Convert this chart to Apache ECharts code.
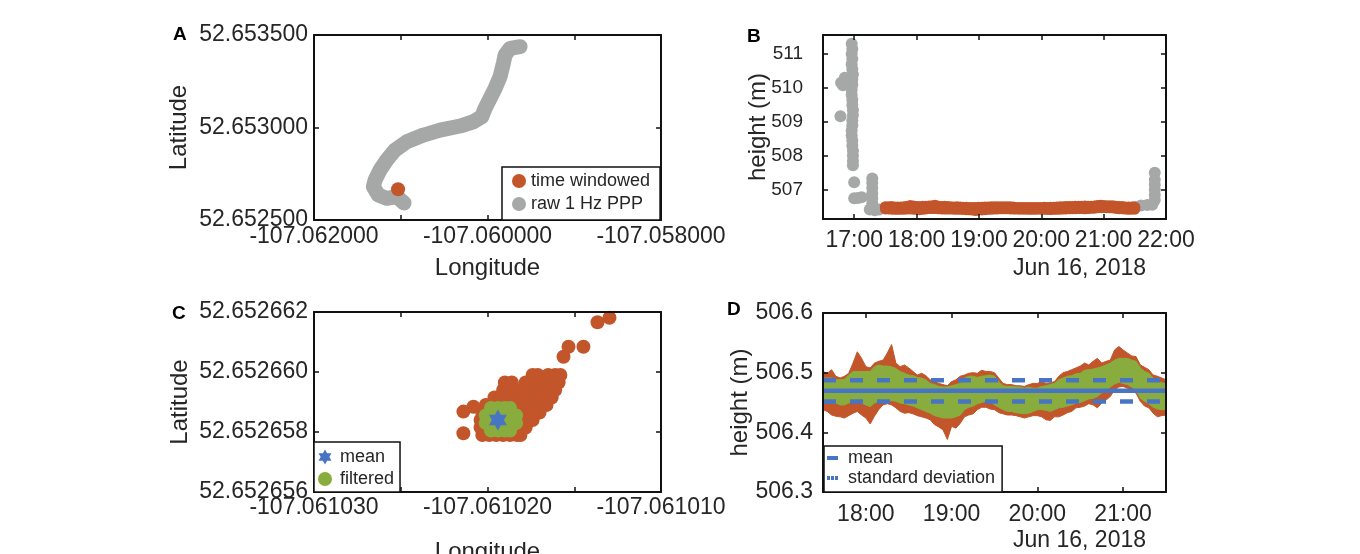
<!DOCTYPE html>
<html lang="en">
<head>
<meta charset="utf-8">
<title>PPP position and height, Jun 16, 2018</title>
<script src="https://cdn.jsdelivr.net/npm/echarts@6/dist/echarts.min.js"></script>
<style>
  html, body { margin: 0; padding: 0; background: #ffffff; }
  #chart { width: 1360px; height: 554px; }
</style>
</head>
<body>
<div id="chart"></div>
<script>
// ---- values ----

// A: raw 1 Hz PPP track [lon, lat] and the time windowed fix
var trackRaw = [
  [-107.059624, 52.653437], [-107.059739, 52.653428], [-107.059797, 52.653392],
  [-107.059817, 52.653347], [-107.059855, 52.653275], [-107.059912, 52.653212],
  [-107.059970, 52.653158], [-107.060028, 52.653104], [-107.060066, 52.653058],
  [-107.060163, 52.653031], [-107.060316, 52.653008], [-107.060547, 52.652986],
  [-107.060739, 52.652959], [-107.060931, 52.652923], [-107.061066, 52.652878],
  [-107.061161, 52.652824], [-107.061239, 52.652770], [-107.061296, 52.652716],
  [-107.061316, 52.652680], [-107.061258, 52.652635], [-107.061161, 52.652617],
  [-107.061046, 52.652626], [-107.060962, 52.652592]
];
var trackWindowed = [[-107.061031, 52.652666]];

// B: raw heights outside the window [hour of day, height m]
var heightRawB = [
  [16.79, 510.15], [16.85, 510.30], [16.82, 510.08], [16.78, 509.17],
  [16.96, 511.30], [16.97, 511.15], [16.96, 511.00], [16.97, 510.85], [16.96, 510.70],
  [16.97, 510.55], [16.98, 510.40], [16.97, 510.25], [16.97, 510.10], [16.96, 509.95],
  [16.96, 509.80], [16.97, 509.65], [16.97, 509.50], [16.98, 509.35], [16.98, 509.20],
  [16.97, 509.05], [16.97, 508.90], [16.96, 508.75], [16.96, 508.60], [16.97, 508.45],
  [16.97, 508.30], [16.98, 508.15], [16.98, 508.00], [16.98, 507.85], [16.98, 507.72],
  [17.00, 507.22],
  [17.00, 506.75], [17.06, 506.76], [17.12, 506.78],
  [17.29, 507.33], [17.29, 507.20], [17.29, 507.05], [17.29, 506.90], [17.29, 506.75], [17.29, 506.60],
  [17.25, 506.42], [17.33, 506.40], [17.40, 506.42],
  [21.50, 506.50], [21.60, 506.54], [21.70, 506.55], [21.78, 506.56],
  [21.82, 506.70], [21.82, 506.85], [21.82, 507.00], [21.82, 507.15], [21.82, 507.30], [21.82, 507.50]
];

// C: time windowed and filtered positions [lon, lat], and their mean
var posWindowed = [
  [-107.0610203, 52.6526579], [-107.0610199, 52.6526579], [-107.0610195, 52.6526579], [-107.0610191, 52.6526579],
  [-107.0610187, 52.6526579], [-107.0610183, 52.6526579], [-107.0610181, 52.6526579],
  [-107.0610204, 52.65265815], [-107.0610200, 52.65265815], [-107.0610196, 52.65265815], [-107.0610192, 52.65265815],
  [-107.0610188, 52.65265815], [-107.0610184, 52.65265815], [-107.0610180, 52.65265815], [-107.0610178, 52.65265815],
  [-107.0610204, 52.6526584], [-107.0610200, 52.6526584], [-107.0610196, 52.6526584], [-107.0610192, 52.6526584],
  [-107.0610188, 52.6526584], [-107.0610184, 52.6526584], [-107.0610180, 52.6526584], [-107.0610176, 52.6526584],
  [-107.0610174, 52.6526584],
  [-107.0610203, 52.65265865], [-107.0610199, 52.65265865], [-107.0610195, 52.65265865], [-107.0610191, 52.65265865],
  [-107.0610187, 52.65265865], [-107.0610183, 52.65265865], [-107.0610179, 52.65265865], [-107.0610175, 52.65265865],
  [-107.0610171, 52.65265865], [-107.0610170, 52.65265865],
  [-107.0610201, 52.6526589], [-107.0610197, 52.6526589], [-107.0610193, 52.6526589], [-107.0610189, 52.6526589],
  [-107.0610185, 52.6526589], [-107.0610181, 52.6526589], [-107.0610177, 52.6526589], [-107.0610173, 52.6526589],
  [-107.0610169, 52.6526589], [-107.0610166, 52.6526589],
  [-107.0610196, 52.65265915], [-107.0610192, 52.65265915], [-107.0610188, 52.65265915], [-107.0610184, 52.65265915],
  [-107.0610180, 52.65265915], [-107.0610176, 52.65265915], [-107.0610172, 52.65265915], [-107.0610168, 52.65265915],
  [-107.0610164, 52.65265915], [-107.0610163, 52.65265915],
  [-107.0610191, 52.6526594], [-107.0610187, 52.6526594], [-107.0610183, 52.6526594], [-107.0610179, 52.6526594],
  [-107.0610175, 52.6526594], [-107.0610171, 52.6526594], [-107.0610167, 52.6526594], [-107.0610163, 52.6526594],
  [-107.0610161, 52.6526594],
  [-107.0610190, 52.65265965], [-107.0610186, 52.65265965], [-107.0610178, 52.65265965], [-107.0610174, 52.65265965],
  [-107.0610170, 52.65265965], [-107.0610166, 52.65265965], [-107.0610162, 52.65265965], [-107.0610159, 52.65265965],
  [-107.0610174, 52.6526599], [-107.0610171, 52.6526599], [-107.0610165, 52.6526599], [-107.0610161, 52.6526599],
  [-107.0610158, 52.6526599],
  [-107.06102139, 52.65265868], [-107.06102081, 52.65265884], [-107.06102139, 52.65265796],
  [-107.06101297, 52.65266181], [-107.06101366, 52.65266166], [-107.06101447, 52.65266084],
  [-107.06101533, 52.65266084], [-107.06101562, 52.65266051]
];
var posFiltered = [
  [-107.0610198, 52.65265805], [-107.0610194, 52.65265805], [-107.0610190, 52.65265805], [-107.0610187, 52.65265805],
  [-107.0610201, 52.6526583], [-107.0610197, 52.6526583], [-107.0610193, 52.6526583],
  [-107.0610189, 52.6526583], [-107.0610185, 52.6526583], [-107.06101835, 52.6526583],
  [-107.0610201, 52.65265855], [-107.0610197, 52.65265855], [-107.0610193, 52.65265855],
  [-107.0610189, 52.65265855], [-107.0610185, 52.65265855], [-107.06101835, 52.65265855],
  [-107.0610198, 52.6526588], [-107.0610194, 52.6526588], [-107.0610190, 52.6526588], [-107.0610187, 52.6526588]
];
var posMean = [[-107.0610194, 52.6526584]];

// D: height envelopes every 3 minutes from 17:30 (windowed raw and filtered)
var heightStartHour = 17.5;
var heightStepHour = 0.05;
var rawHigh = [
  506.502, 506.499, 506.505, 506.494, 506.491, 506.494, 506.499, 506.516, 506.535, 506.524,
  506.510, 506.508, 506.516, 506.519, 506.521, 506.533, 506.547, 506.516, 506.510, 506.513,
  506.508, 506.502, 506.496, 506.499, 506.495, 506.488, 506.485, 506.482, 506.480, 506.478,
  506.485, 506.488, 506.494, 506.496, 506.499, 506.500, 506.499, 506.504, 506.502, 506.502,
  506.500, 506.491, 506.482, 506.480, 506.480, 506.478, 506.478, 506.477, 506.480, 506.482,
  506.482, 506.485, 506.482, 506.483, 506.485, 506.494, 506.500, 506.502, 506.505, 506.508,
  506.511, 506.516, 506.513, 506.519, 506.524, 506.516, 506.519, 506.521, 506.538, 506.544,
  506.538, 506.533, 506.528, 506.527, 506.513, 506.509, 506.505, 506.496, 506.494, 506.491, 506.488
];
var rawLow = [
  506.438, 506.435, 506.429, 506.427, 506.426, 506.424, 506.428, 506.432, 506.435, 506.429,
  506.424, 506.414, 506.427, 506.438, 506.446, 506.448, 506.446, 506.441, 506.435, 506.432,
  506.433, 506.431, 506.428, 506.426, 506.424, 506.421, 506.413, 506.409, 506.404, 506.388,
  506.410, 506.407, 506.415, 506.426, 506.429, 506.431, 506.438, 506.442, 506.442, 506.439,
  506.438, 506.433, 506.431, 506.429, 506.429, 506.428, 506.426, 506.424, 506.426, 506.428,
  506.428, 506.426, 506.421, 506.420, 506.426, 506.426, 506.429, 506.433, 506.435, 506.441,
  506.442, 506.444, 506.448, 506.446, 506.441, 506.449, 506.454, 506.460, 506.471, 506.476,
  506.477, 506.474, 506.468, 506.466, 506.452, 506.444, 506.441, 506.432, 506.426, 506.428, 506.429
];
var filteredHigh = [
  506.491, 506.491, 506.491, 506.488, 506.488, 506.489, 506.496, 506.502, 506.502, 506.502,
  506.502, 506.502, 506.510, 506.513, 506.511, 506.511, 506.510, 506.507, 506.502, 506.499,
  506.496, 506.495, 506.492, 506.491, 506.488, 506.482, 506.480, 506.477, 506.476, 506.476,
  506.478, 506.480, 506.482, 506.491, 506.494, 506.494, 506.492, 506.494, 506.495, 506.496,
  506.494, 506.485, 506.478, 506.477, 506.477, 506.476, 506.476, 506.474, 506.476, 506.474,
  506.474, 506.477, 506.478, 506.480, 506.482, 506.488, 506.491, 506.494, 506.495, 506.498,
  506.499, 506.504, 506.505, 506.506, 506.508, 506.510, 506.513, 506.516, 506.521, 506.524,
  506.524, 506.524, 506.521, 506.519, 506.508, 506.502, 506.499, 506.491, 506.485, 506.483, 506.482
];
var filteredLow = [
  506.452, 506.452, 506.449, 506.449, 506.446, 506.446, 506.449, 506.452, 506.452, 506.449,
  506.446, 506.443, 506.449, 506.452, 506.454, 506.454, 506.453, 506.452, 506.449, 506.448,
  506.446, 506.444, 506.441, 506.438, 506.435, 506.432, 506.428, 506.426, 506.424, 506.424,
  506.424, 506.426, 506.429, 506.438, 506.442, 506.444, 506.448, 506.450, 506.452, 506.452,
  506.446, 506.442, 506.438, 506.435, 506.435, 506.433, 506.432, 506.431, 506.432, 506.435,
  506.438, 506.438, 506.437, 506.435, 506.438, 506.441, 506.442, 506.444, 506.446, 506.449,
  506.450, 506.453, 506.456, 506.457, 506.460, 506.466, 506.471, 506.476, 506.481, 506.484,
  506.482, 506.480, 506.476, 506.471, 506.457, 506.452, 506.448, 506.442, 506.439, 506.438, 506.438
];
var heightMean = 506.4695;
var heightStd = 0.0178;

// ---- styling ----
var ink = '#262626';
var frame = '#111111';
var family = '"Liberation Sans", Arial, Helvetica, sans-serif';
var orange = '#C3552A';
var gray = '#A6A8A8';
var green = '#88AD3E';
var blue = '#4774C3';
var starPath = 'path://M100,0L128.9,50L186.6,50L157.7,100L186.6,150L128.9,150L100,200L71.1,150L13.4,150L42.3,100L13.4,50L71.1,50Z';

function onStep(v, step) {
  var k = v / step;
  return Math.abs(k - Math.round(k)) < 1e-6;
}
function fixed6(step) {
  return function (v) { return onStep(v, step) ? v.toFixed(6) : ''; };
}
function hourLabel(v) { return onStep(v, 1) ? Math.round(v) + ':00' : ''; }

// main axis (labels) + mirrored axis (ticks only), MATLAB box style
function axisPair(grid, pos, lim, fmt, margin, name, gap, labelSize) {
  function base() {
    var a = {
      type: 'value', gridIndex: grid, min: lim.min, max: lim.max, z: 10,
      splitLine: { show: false },
      axisLine: { show: true, onZero: false, lineStyle: { color: frame, width: 2 } },
      axisTick: { show: true, inside: true, length: 5, lineStyle: { color: frame, width: 1.5 } }
    };
    if (lim.interval) a.interval = lim.interval;
    else { a.minInterval = lim.step; a.maxInterval = lim.step; }
    return a;
  }
  var main = base();
  main.position = pos;
  main.axisLabel = { formatter: fmt, margin: margin, color: ink, fontFamily: family, fontSize: labelSize || 23 };
  main.name = name;
  main.nameLocation = 'middle';
  main.nameGap = gap;
  main.nameMoveOverlap = false;
  main.nameTextStyle = { color: ink, fontFamily: family, fontSize: 24 };
  var mirror = base();
  mirror.position = (pos === 'bottom') ? 'top' : 'right';
  mirror.axisLabel = { show: false };
  return [main, mirror];
}

var xAxes = [].concat(
  axisPair(0, 'bottom', { min: -107.062, max: -107.058, interval: 0.001 }, fixed6(0.002), 5, 'Longitude', 36),
  axisPair(1, 'bottom', { min: 16.5, max: 22, step: 1 }, hourLabel, 10, '', 0),
  axisPair(2, 'bottom', { min: -107.06103, max: -107.06101, interval: 0.000005 }, fixed6(0.00001), 4, 'Longitude', 48),
  axisPair(3, 'bottom', { min: 17.5, max: 21.5, step: 1 }, hourLabel, 11, '', 0)
);
var yAxes = [].concat(
  axisPair(0, 'left', { min: 52.6525, max: 52.6535, interval: 0.0005 }, fixed6(0.0005), 6, 'Latitude', 123),
  axisPair(1, 'left', { min: 506.14, max: 511.56, step: 1 }, function (v) { return onStep(v, 1) ? String(Math.round(v)) : ''; }, 20, 'height (m)', 53, 19),
  axisPair(2, 'left', { min: 52.652656, max: 52.652662, interval: 0.000002 }, fixed6(0.000002), 6, 'Latitude', 122),
  axisPair(3, 'left', { min: 506.3, max: 506.6, interval: 0.1 }, function (v) { return v.toFixed(1); }, 10, 'height (m)', 71)
);

function hourOf(i) { return heightStartHour + i * heightStepHour; }
function pairs(values) { return values.map(function (v, i) { return [hourOf(i), v]; }); }
var hStart = hourOf(0);
var hEnd = hourOf(rawHigh.length - 1);

// filled band between two envelopes, placed through the axes with api.coord
function band(high, low, color) {
  return function (params, api) {
    var pts = [];
    for (var i = 0; i < high.length; i++) pts.push(api.coord([hourOf(i), high[i]]));
    for (var j = low.length - 1; j >= 0; j--) pts.push(api.coord([hourOf(j), low[j]]));
    return { type: 'polygon', shape: { points: pts }, style: { fill: color, stroke: color, lineWidth: 1 } };
  };
}

function legendBase(extra) {
  var l = {
    orient: 'vertical', selectedMode: false,
    backgroundColor: '#ffffff', borderColor: frame, borderWidth: 1.5, borderRadius: 0,
    itemStyle: { borderWidth: 0 },
    textStyle: { color: ink, fontFamily: family, fontSize: 18 }
  };
  for (var k in extra) l[k] = extra[k];
  return l;
}

var option = {
  animation: false,
  backgroundColor: '#ffffff',
  textStyle: { fontFamily: family },
  grid: [
    { left: 314, top: 35, width: 347, height: 185, outerBoundsMode: 'none' },
    { left: 823, top: 35, width: 343, height: 184, outerBoundsMode: 'none' },
    { left: 314, top: 312, width: 347, height: 180, outerBoundsMode: 'none' },
    { left: 823, top: 313, width: 343, height: 179, outerBoundsMode: 'none' }
  ],
  xAxis: xAxes,
  yAxis: yAxes,
  legend: [
    legendBase({
      left: 502, top: 167, z: 20, padding: [5, 10, 7, 10], itemGap: 5, itemWidth: 14, itemHeight: 14,
      data: [{ name: 'time windowed', icon: 'circle' }, { name: 'raw 1 Hz PPP', icon: 'circle' }]
    }),
    legendBase({
      left: 314, top: 442, z: 20, padding: [6, 6, 4, 4], itemGap: 4, itemWidth: 14, itemHeight: 15,
      textStyle: { color: ink, fontFamily: family, fontSize: 18, padding: [0, 0, 0, 3] },
      data: [{ name: 'mean', icon: starPath }, { name: 'filtered', icon: 'circle' }]
    }),
    legendBase({
      left: 824, top: 446, z: 20, padding: [3, 7, 5, 3], itemGap: 2, itemWidth: 11, itemHeight: 4,
      symbolKeepAspect: false,
      textStyle: { color: ink, fontFamily: family, fontSize: 18, padding: [0, 0, 0, 5] },
      formatter: function (n) { return n.replace(' (D)', ''); },
      data: [
        { name: 'mean (D)', icon: 'rect' },
        { name: 'standard deviation', icon: 'path://M0,0H3V4H0Z M4,0H7V4H4Z M8,0H11V4H8Z' }
      ]
    })
  ],
  graphic: [
    { type: 'text', x: 173, y: 35, style: { text: 'A', fontSize: 19, fontWeight: 'bold', fontFamily: family, fill: '#000', align: 'left', verticalAlign: 'middle' } },
    { type: 'text', x: 747, y: 37, style: { text: 'B', fontSize: 19, fontWeight: 'bold', fontFamily: family, fill: '#000', align: 'left', verticalAlign: 'middle' } },
    { type: 'text', x: 172, y: 314, style: { text: 'C', fontSize: 19, fontWeight: 'bold', fontFamily: family, fill: '#000', align: 'left', verticalAlign: 'middle' } },
    { type: 'text', x: 727, y: 310, style: { text: 'D', fontSize: 19, fontWeight: 'bold', fontFamily: family, fill: '#000', align: 'left', verticalAlign: 'middle' } },
    { type: 'text', x: 1146, y: 269, style: { text: 'Jun 16, 2018', fontSize: 23, fontFamily: family, fill: ink, align: 'right', verticalAlign: 'middle' } },
    { type: 'text', x: 1146, y: 541, style: { text: 'Jun 16, 2018', fontSize: 23, fontFamily: family, fill: ink, align: 'right', verticalAlign: 'middle' } }
  ],
  series: [
    // A
    { name: 'raw 1 Hz PPP', type: 'line', xAxisIndex: 0, yAxisIndex: 0, data: trackRaw,
      symbol: 'none', showSymbol: false, color: gray,
      lineStyle: { color: gray, width: 15, cap: 'round', join: 'round' }, z: 2 },
    { name: 'time windowed', type: 'scatter', xAxisIndex: 0, yAxisIndex: 0, data: trackWindowed,
      symbolSize: 14, itemStyle: { color: orange, opacity: 1 }, z: 3 },
    // B
    { name: 'raw (B)', type: 'scatter', xAxisIndex: 2, yAxisIndex: 2, data: heightRawB,
      symbolSize: 12, itemStyle: { color: gray, opacity: 1 }, z: 2 },
    { name: 'windowed (B)', type: 'scatter', xAxisIndex: 2, yAxisIndex: 2,
      data: pairs(rawHigh).concat(pairs(rawLow)),
      symbolSize: 11, itemStyle: { color: orange, opacity: 1 }, z: 3 },
    // C
    { name: 'time windowed (C)', type: 'scatter', xAxisIndex: 4, yAxisIndex: 4, data: posWindowed,
      symbolSize: 14, itemStyle: { color: orange, opacity: 1 }, z: 2 },
    { name: 'filtered', type: 'scatter', xAxisIndex: 4, yAxisIndex: 4, data: posFiltered,
      symbolSize: 14, itemStyle: { color: green, opacity: 1 }, z: 3 },
    { name: 'mean', type: 'scatter', xAxisIndex: 4, yAxisIndex: 4, data: posMean,
      symbol: starPath, symbolSize: [18, 21], itemStyle: { color: blue, opacity: 1 }, z: 4 },
    // D: raw band (orange), filtered band (green), mean and standard deviation
    { name: 'raw (D)', type: 'custom', xAxisIndex: 6, yAxisIndex: 6,
      data: [[hStart, heightMean]], renderItem: band(rawHigh, rawLow, orange), z: 2 },
    { name: 'filtered (D)', type: 'custom', xAxisIndex: 6, yAxisIndex: 6,
      data: [[hStart, heightMean]], renderItem: band(filteredHigh, filteredLow, green), z: 3 },
    { name: 'standard deviation', type: 'line', xAxisIndex: 6, yAxisIndex: 6,
      data: [[hStart, heightMean + heightStd], [hEnd, heightMean + heightStd]],
      symbol: 'none', color: blue, lineStyle: { color: blue, width: 4.5, type: [13, 14] }, z: 4 },
    { name: 'standard deviation', type: 'line', xAxisIndex: 6, yAxisIndex: 6,
      data: [[hStart, heightMean - heightStd], [hEnd, heightMean - heightStd]],
      symbol: 'none', color: blue, lineStyle: { color: blue, width: 4.5, type: [13, 14] }, z: 4 },
    { name: 'mean (D)', type: 'line', xAxisIndex: 6, yAxisIndex: 6,
      data: [[hStart, heightMean], [hEnd, heightMean]],
      symbol: 'none', color: blue, lineStyle: { color: blue, width: 4.5 }, z: 5 }
  ]
};

var chart = echarts.init(document.getElementById('chart'));
chart.setOption(option);
window.onresize = function () { chart.resize(); };
</script>
</body>
</html>
